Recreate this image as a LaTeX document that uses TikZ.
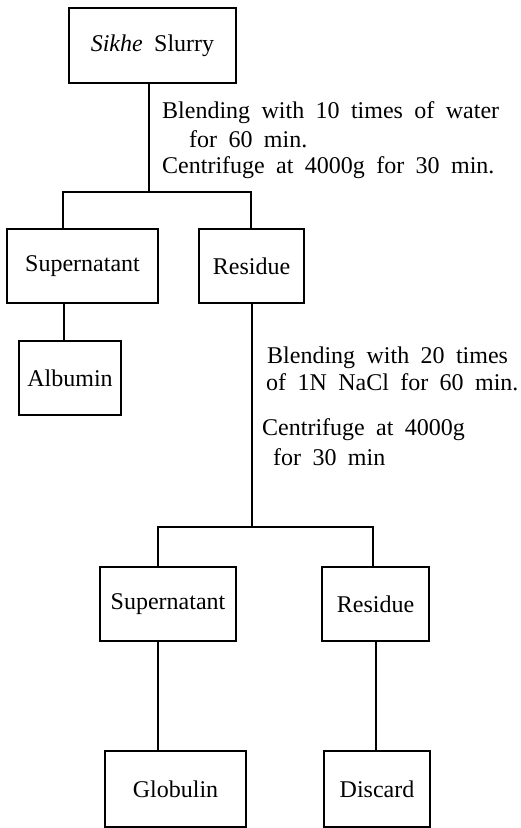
\documentclass[tikz,border=0pt]{standalone}
\usepackage{fontspec}
\setmainfont[WordSpace={1.9}]{Liberation Serif}
\begin{document}
\begin{tikzpicture}[x=1pt,y=-1pt,
  box/.style={draw,line width=1.4pt,inner sep=0pt,font=\fontsize{24}{29}\selectfont},
  link/.style={line width=1.4pt},
  note/.style={anchor=base west,inner sep=0pt,font=\fontsize{24}{29}\selectfont}]
\useasboundingbox (0,0) rectangle (521,828);
\node[box,minimum width=167pt,minimum height=75pt] (slurry) at (152.5,45.5) {\textit{Sikhe} Slurry};
\node[box,minimum width=151pt,minimum height=74pt] (sup1) at (82.5,266) {Supernatant};
\node[box,minimum width=105pt,minimum height=74pt] (res1) at (251.5,266) {Residue};
\node[box,minimum width=102pt,minimum height=74pt] (alb) at (70,378) {Albumin};
\node[box,minimum width=136pt,minimum height=74pt] (sup2) at (168,604) {Supernatant};
\node[box,minimum width=107pt,minimum height=74pt] (res2) at (375.5,604) {Residue};
\node[box,minimum width=141pt,minimum height=76pt] (glob) at (175.5,789) {Globulin};
\node[box,minimum width=106pt,minimum height=76pt] (disc) at (377,789) {Discard};
\coordinate (j1) at (149,192);
\coordinate (l1) at (63,192);
\coordinate (r1) at (251,192);
\coordinate (a1) at (64,0);
\coordinate (j2) at (252,527);
\coordinate (l2) at (158,527);
\coordinate (r2) at (373,527);
\coordinate (g2) at (158,0);
\coordinate (d2) at (376,0);
\draw[link] (slurry.south -| j1) -- (j1);
\draw[link] (sup1.north -| l1) -- (l1) -- (r1) -- (res1.north -| r1);
\draw[link] (sup1.south -| a1) -- (alb.north -| a1);
\draw[link] (res1.south -| j2) -- (j2);
\draw[link] (sup2.north -| l2) -- (l2) -- (r2) -- (res2.north -| r2);
\draw[link] (sup2.south -| g2) -- (glob.north -| g2);
\draw[link] (res2.south -| d2) -- (disc.north -| d2);
\node[note] (t1) at (162,118) {Blending with 10 times of water};
\node[note] (t2) at (189,147) {for 60 min.};
\node[note] (t3) at (162,173) {Centrifuge at 4000g for 30 min.};
\node[note] (t4) at (267,363) {Blending with 20 times};
\node[note] (t5) at (266,390) {of 1N NaCl for 60 min.};
\node[note] (t6) at (262,435) {Centrifuge at 4000g};
\node[note] (t7) at (273,465) {for 30 min};
\end{tikzpicture}
\end{document}
